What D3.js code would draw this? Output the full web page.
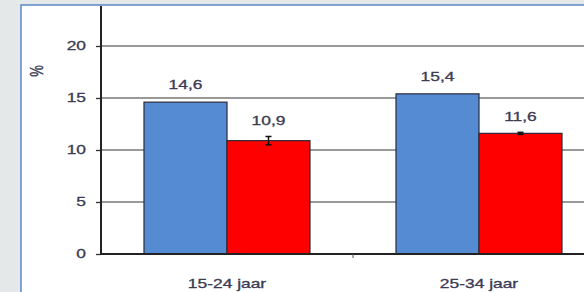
<!DOCTYPE html>
<meta charset="utf-8">
<style>
body { margin: 0; background: #e5e8e8; }
svg { display: block; }
text { font-family: "Liberation Sans", Arial, sans-serif; fill: #3b3b52; font-size: 12px; stroke: #3b3b52; stroke-width: 0.3; }
</style>
<svg width="584" height="292"></svg>
<script src="https://d3js.org/d3.v7.min.js"></script>
<script>
var categories = ["15-24 jaar", "25-34 jaar"];
var seriesNames = ["a", "b"];
var blueValues = [14.6, 15.4];
var redValues = [10.9, 11.6];
var redErrors = [0.4, 0.1];
var valueLabels = [["14,6", "10,9"], ["15,4", "11,6"]];
var yTicks = [0, 5, 10, 15, 20];
var colours = ["#558bd3", "#ff0000"];

// text in the source picture is stretched sideways
var stretch = 1.45;

var svg = d3.select("svg");

// white panel with blue border
svg.append("rect")
  .attr("x", 21).attr("y", 5)
  .attr("width", 600).attr("height", 300)
  .style("fill", "#fff")
  .style("stroke", "#5b87c6")
  .style("stroke-width", 1.5);

var y = d3.scaleLinear().domain([0, 20]).range([254, 46]);
var x0 = d3.scaleBand().domain(categories).range([101, 605]);
var x1 = d3.scaleBand().domain(seriesNames).range([43, x0.bandwidth() - 43]);

function stretchText(sel) {
  sel.each(function(){
    var t = d3.select(this);
    var tx = +t.attr("x") || 0, ty = +t.attr("y") || 0;
    t.attr("transform", "translate(" + tx + "," + ty + ") scale(" + stretch + ",1)")
      .attr("x", 0).attr("y", 0);
  });
}

// gridlines
svg.selectAll("line.grid")
  .data(yTicks.filter(function(d){ return d > 0; }))
  .enter().append("line")
  .attr("class", "grid")
  .attr("x1", 101).attr("x2", 584)
  .attr("y1", function(d){ return y(d); })
  .attr("y2", function(d){ return y(d); })
  .style("stroke", "#777")
  .style("stroke-width", 1.4);

// bars
var groups = svg.selectAll("g.group")
  .data(categories)
  .enter().append("g")
  .attr("class", "group")
  .attr("transform", function(d){ return "translate(" + x0(d) + ",0)"; });

groups.selectAll("rect")
  .data(function(d, i){
    return [
      {s: "a", v: blueValues[i], c: colours[0]},
      {s: "b", v: redValues[i], c: colours[1]}
    ];
  })
  .enter().append("rect")
  .attr("x", function(d){ return x1(d.s); })
  .attr("width", x1.bandwidth())
  .attr("y", function(d){ return y(d.v); })
  .attr("height", function(d){ return y(0) - y(d.v); })
  .style("fill", function(d){ return d.c; })
  .style("stroke", "#2a2a3a")
  .style("stroke-width", 1.2);

// error bars
groups.each(function(d, i){
  var g = d3.select(this);
  var cx = x1("b") + x1.bandwidth() / 2;
  var e = redErrors[i];
  g.append("line")
    .attr("x1", cx).attr("x2", cx)
    .attr("y1", y(redValues[i] + e)).attr("y2", y(redValues[i] - e))
    .style("stroke", "#111").style("stroke-width", 1.5);
  [e, -e].forEach(function(s){
    g.append("line")
      .attr("x1", cx - 3).attr("x2", cx + 3)
      .attr("y1", y(redValues[i] + s)).attr("y2", y(redValues[i] + s))
      .style("stroke", "#111").style("stroke-width", 1.5);
  });
});

// value labels
groups.each(function(d, i){
  var g = d3.select(this);
  g.append("text")
    .attr("x", x1("a") + x1.bandwidth() / 2)
    .attr("y", y(blueValues[i]) - 13)
    .attr("text-anchor", "middle")
    .text(valueLabels[i][0]);
  g.append("text")
    .attr("x", x1("b") + x1.bandwidth() / 2)
    .attr("y", y(redValues[i] + redErrors[i]) - 11)
    .attr("text-anchor", "middle")
    .text(valueLabels[i][1]);
});
groups.selectAll("text").call(stretchText);

// y axis
var yAxis = d3.axisLeft(y).tickValues(yTicks).tickSize(5).tickPadding(10);
var ya = svg.append("g").attr("transform", "translate(101,0)").call(yAxis);
ya.select(".domain").remove();
ya.selectAll(".tick line").style("stroke", "#333").style("stroke-width", 1.3);
ya.selectAll(".tick text")
  .attr("font-family", null).attr("font-size", null)
  .style("font-size", "12px")
  .style("fill", "#3b3b52")
  .call(stretchText);
svg.append("line")
  .attr("x1", 101).attr("x2", 101)
  .attr("y1", 6).attr("y2", 255)
  .style("stroke", "#222").style("stroke-width", 2);

// x axis
var xa = svg.append("g").attr("transform", "translate(0,254)")
  .call(d3.axisBottom(x0).tickSize(0).tickPadding(25));
xa.select(".domain").remove();
xa.selectAll(".tick text")
  .style("font-size", "12px")
  .style("fill", "#3b3b52")
  .call(stretchText);
svg.append("line")
  .attr("x1", 100).attr("x2", 584)
  .attr("y1", 254).attr("y2", 254)
  .style("stroke", "#222").style("stroke-width", 2);
svg.append("line")
  .attr("x1", x0(categories[1])).attr("x2", x0(categories[1]))
  .attr("y1", 254).attr("y2", 258)
  .style("stroke", "#555");

// unit label
svg.append("text")
  .attr("transform", "translate(36,71) scale(" + stretch + ",1) rotate(-90)")
  .attr("text-anchor", "middle")
  .attr("dy", "0.35em")
  .style("font-size", "13px")
  .text("%");
</script>
